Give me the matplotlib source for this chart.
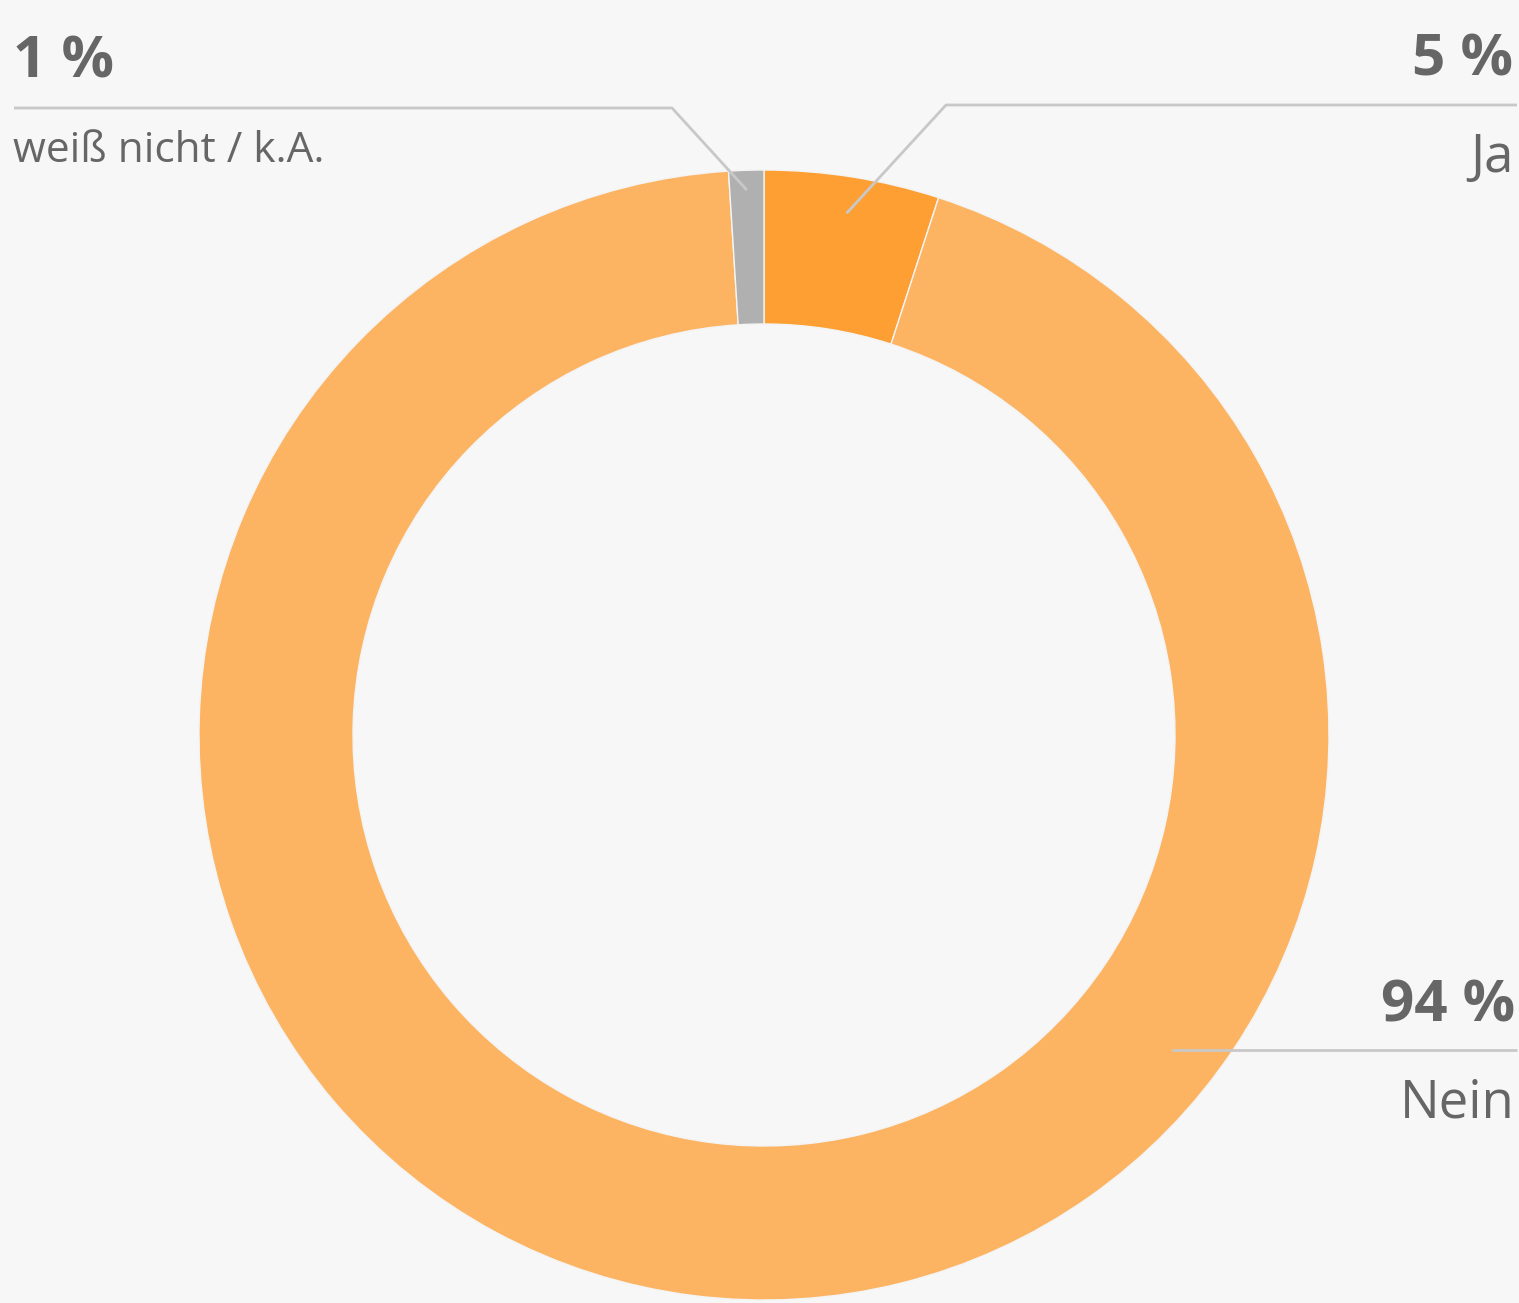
import numpy as np
import matplotlib
matplotlib.use('Agg')
import matplotlib.pyplot as plt

W, H = 1519, 1303

labels = ['Ja', 'Nein', 'weiß nicht / k.A.']
values = [5, 94, 1]
pct_text = ['5 %', '94 %', '1 %']
colors = ['#fd9f33', '#fcb463', '#b0b0b0']

BG = '#f7f7f7'
TXT = '#666666'
LINE = '#c8c8c8'

plt.rcParams['font.family'] = ['Open Sans', 'DejaVu Sans']

fig = plt.figure(figsize=(W / 100, H / 100), dpi=100, facecolor=BG)
ax = fig.add_axes([0, 0, 1, 1])
ax.set_facecolor(BG)

cx, cy = 764, H - 735
R = 565
wedges, _ = ax.pie(values, colors=colors, startangle=90, counterclock=False,
                   center=(cx, cy), radius=R, frame=True,
                   wedgeprops=dict(width=154, edgecolor='#f4f4f4', linewidth=1))
ax.set_xlim(0, W)
ax.set_ylim(0, H)
ax.axis('off')


def y(v):
    return H - v


def anchor(w, frac):
    ang = np.deg2rad((w.theta1 + w.theta2) / 2)
    return cx + R * frac * np.cos(ang), cy + R * frac * np.sin(ang)


# weiß nicht / k.A. (top left)
ax2, ay2 = anchor(wedges[2], 0.965)
ax.plot([14, 672, ax2], [y(108), y(108), ay2], color=LINE, lw=2, solid_capstyle='butt')
ax.text(13, y(77), pct_text[2], color=TXT, fontsize=42, fontweight='bold', ha='left', va='baseline')
ax.text(13, y(162), labels[2], color=TXT, fontsize=30.5, ha='left', va='baseline')

# Ja (top right)
ax0, ay0 = anchor(wedges[0], 0.935)
ax.plot([W - 2, 946, ax0], [y(105), y(105), ay0], color=LINE, lw=2, solid_capstyle='butt')
ax.text(W - 6, y(76), pct_text[0], color=TXT, fontsize=42, fontweight='bold', ha='right', va='baseline')
ax.text(W - 5, y(172), labels[0], color=TXT, fontsize=38, ha='right', va='baseline')

# Nein (right)
ax.plot([1172, W - 2], [y(1050), y(1050)], color=LINE, lw=2, solid_capstyle='butt')
ax.text(W - 4, y(1022), pct_text[1], color=TXT, fontsize=42, fontweight='bold', ha='right', va='baseline')
ax.text(W - 4, y(1118), labels[1], color=TXT, fontsize=38, ha='right', va='baseline')

fig.savefig('out.png', dpi=100, facecolor=BG)
